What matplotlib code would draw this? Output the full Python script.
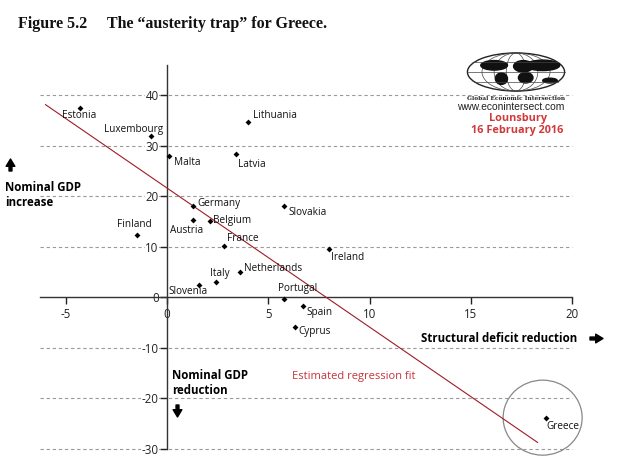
import matplotlib
matplotlib.use("Agg")
import matplotlib.pyplot as plt
from matplotlib.patches import Ellipse

# ---------------- data ----------------
countries = ["Estonia", "Luxembourg", "Malta", "Lithuania", "Latvia", "Germany",
             "Austria", "Belgium", "Finland", "France", "Slovakia", "Netherlands",
             "Italy", "Slovenia", "Portugal", "Spain", "Cyprus", "Ireland", "Greece"]
deficit_reduction = [-4.3, -0.8, 0.1, 4.0, 3.4, 1.3, 1.3, 2.1, -1.5, 2.8, 5.8, 3.6,
                     2.4, 1.6, 5.8, 6.7, 6.3, 8.0, 18.7]
gdp_change = [37.5, 31.8, 27.9, 34.7, 28.3, 18.0, 15.3, 15.0, 12.4, 10.1, 18.0, 5.1,
              3.0, 2.4, -0.4, -1.7, -5.8, 9.5, -23.8]
regression_x = [-6.0, 18.3]
regression_y = [38.1, -28.7]
x_ticks = [-5, 0, 5, 10, 15, 20]
y_ticks = [-30, -20, -10, 0, 10, 20, 30, 40]

# ---------------- layout / style ----------------
W, H = 634, 475
FONT = "Open Sans"
plt.rcParams["font.family"] = [FONT, "DejaVu Sans"]
plt.rcParams["axes.unicode_minus"] = False

# label offsets in pixels (dx, dy, ha)
label_offsets = {
    "Estonia": (-18, -8, "left"), "Luxembourg": (12, 7, "right"),
    "Malta": (5, -6, "left"), "Lithuania": (5, 6.5, "left"),
    "Latvia": (2, -10, "left"), "Germany": (4, 3, "left"),
    "Austria": (-23, -11, "left"), "Belgium": (3, 1, "left"),
    "Finland": (15, 10, "right"), "France": (3, 7.5, "left"),
    "Slovakia": (4, -6.5, "left"), "Netherlands": (4, 3, "left"),
    "Italy": (-6, 8.5, "left"), "Slovenia": (-31, -6, "left"),
    "Portugal": (-6, 11, "left"), "Spain": (4, -7, "left"),
    "Cyprus": (4, -4.5, "left"), "Ireland": (2, -8.5, "left"),
    "Greece": (1, -9, "left"),
}

fig = plt.figure(figsize=(W / 100, H / 100), dpi=100)
fig.patch.set_facecolor("white")

# axes pixel box
ax_l, ax_r, ax_t, ax_b = 40, 573, 60, 465
ax = fig.add_axes([ax_l / W, 1 - ax_b / H, (ax_r - ax_l) / W, (ax_b - ax_t) / H])
x0p, xs = 167.0, 20.25
y0p, ys = 297.3, 5.057
xlim = ((ax_l - x0p) / xs, (ax_r - x0p) / xs)
ylim = ((y0p - ax_b) / ys, (y0p - ax_t) / ys)
ax.set_xlim(*xlim)
ax.set_ylim(*ylim)

for s in ["top", "right"]:
    ax.spines[s].set_visible(False)
ax.spines["left"].set_position(("data", 0))
ax.spines["bottom"].set_position(("data", 0))
ax.spines["left"].set_bounds(-30, (y0p - 65) / ys)
ax.spines["bottom"].set_bounds(xlim[0], 20)
for s in ["left", "bottom"]:
    ax.spines[s].set_color("#333333")
    ax.spines[s].set_linewidth(1.0)

ax.set_xticks(x_ticks)
ax.set_yticks(y_ticks)
ax.tick_params(axis="x", direction="out", length=5, width=1, pad=3,
               labelsize=8.3, colors="#222222")
ax.tick_params(axis="y", direction="out", length=5, width=1, pad=1,
               labelsize=8.3, colors="#222222")
for lab in ax.get_yticklabels():
    lab.set_bbox(dict(facecolor="white", edgecolor="none", pad=0.5))

grid_y = [v for v in y_ticks if v != 0]
ax.hlines(grid_y, xlim[0], 20, colors="#9a9a9a", linestyles=(0, (3, 2.5)),
          linewidth=0.8, zorder=1)

ax.plot(regression_x, regression_y, color="#a01c24", linewidth=0.8, zorder=3)

ax.scatter(deficit_reduction, gdp_change, marker="D", s=9, color="black",
           zorder=4, linewidths=0)

for name, xv, yv in zip(countries, deficit_reduction, gdp_change):
    dx, dy, ha = label_offsets[name]
    ax.annotate(name, (xv, yv), xytext=(dx, dy), textcoords="offset pixels",
                ha=ha, va="center", fontsize=7.2, color="#111111", zorder=5)

gi = countries.index("Greece")
ax.add_patch(Ellipse((deficit_reduction[gi] - 0.15, gdp_change[gi]),
                     width=79 / xs, height=75 / ys, fill=False,
                     edgecolor="#888888", linewidth=0.9, clip_on=False, zorder=2))

# ---------------- figure texts ----------------
def ftext(x, y, s, **kw):
    fig.text(x / W, 1 - y / H, s, **kw)

def farrow(x1, y1, x2, y2):
    ax.annotate("", xy=(x2, H - y2), xytext=(x1, H - y1), xycoords="figure pixels",
                textcoords="figure pixels", annotation_clip=False,
                arrowprops=dict(arrowstyle="simple,head_length=0.75,head_width=0.9,tail_width=0.3",
                                color="black", shrinkA=0, shrinkB=0, mutation_scale=7))

ftext(18, 24, "Figure 5.2", family=["Liberation Serif"], fontsize=11.5,
      fontweight="bold", va="center", color="#111111")
ftext(107, 24, "The \u201causterity trap\u201d for Greece.", family=["Liberation Serif"],
      fontsize=11.5, fontweight="bold", va="center", color="#111111")

farrow(10.5, 171, 10.5, 159)
ftext(5, 195, "Nominal GDP\nincrease", fontsize=8.3, fontweight="bold",
      va="center", linespacing=1.15)

ftext(172, 383, "Nominal GDP\nreduction", fontsize=8.3, fontweight="bold",
      va="center", linespacing=1.15)
farrow(177.5, 405, 177.5, 417)

ftext(577, 339, "Structural deficit reduction", fontsize=8.3, fontweight="bold",
      va="center", ha="right")
farrow(590, 338.5, 603, 338.5)

ftext(292, 376, "Estimated regression fit", fontsize=8, color="#c8323a",
      va="center")

# watermark (globe + credits)
wax = fig.add_axes([465 / W, 1 - 92 / H, 102 / W, 40 / H])
wax.set_xlim(-1.05, 1.05)
wax.set_ylim(-1.05, 1.05)
wax.axis("off")
wax.add_patch(Ellipse((0, 0), 2, 2, fill=False, edgecolor="#222222", linewidth=1))
for w in [0.4, 0.9, 1.4]:
    wax.add_patch(Ellipse((0, 0), w, 2, fill=False, edgecolor="#444444", linewidth=0.5))
for yy in [-0.5, 0, 0.5]:
    half = (1 - yy ** 2) ** 0.5
    wax.plot([-half, half], [yy, yy], color="#444444", linewidth=0.5)
wax.add_patch(Ellipse((-0.45, 0.35), 0.55, 0.5, color="#111111"))
wax.add_patch(Ellipse((-0.3, -0.35), 0.25, 0.6, color="#111111"))
wax.add_patch(Ellipse((0.15, 0.3), 0.4, 0.6, color="#111111"))
wax.add_patch(Ellipse((0.55, 0.35), 0.7, 0.55, color="#111111"))
wax.add_patch(Ellipse((0.2, -0.3), 0.3, 0.55, color="#111111"))
wax.add_patch(Ellipse((0.7, -0.45), 0.3, 0.25, color="#111111"))

ftext(516, 98.5, "Global Economic Intersection", family=["DejaVu Serif"],
      fontsize=4.2, fontweight="bold", ha="center", va="center", color="#222222")
ftext(511, 107.5, "www.econintersect.com", family=["Liberation Sans"], fontsize=7.4,
      ha="center", va="center", color="#222222")
ftext(518, 119, "Lounsbury", fontsize=7.8, fontweight="bold", ha="center",
      va="center", color="#d03a3a")
ftext(517, 130, "16 February 2016", fontsize=7.8, fontweight="bold", ha="center",
      va="center", color="#d03a3a")

fig.savefig("out.png", dpi=100, facecolor="white")
